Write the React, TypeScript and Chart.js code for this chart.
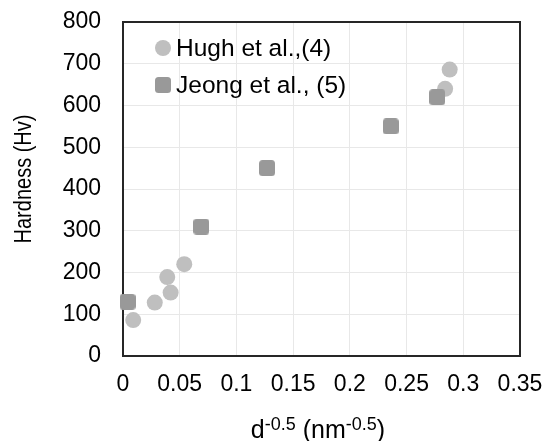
import React, { useEffect, useRef } from "react";
import { Chart, registerables } from "chart.js";

Chart.register(...registerables);

const hughX = [0.009, 0.028, 0.039, 0.042, 0.054, 0.284, 0.288];
const hughY = [86, 128, 189, 152, 220, 640, 686];
const jeongX = [0.004, 0.069, 0.127, 0.236, 0.277];
const jeongY = [130, 310, 450, 550, 620];
const seriesLabels = ["Hugh et al.,(4)", "Jeong et al., (5)"];
const xTickValues = [0, 0.05, 0.1, 0.15, 0.2, 0.25, 0.3, 0.35];
const xTickLabels = ["0", "0.05", "0.1", "0.15", "0.2", "0.25", "0.3", "0.35"];
const yTickValues = [0, 100, 200, 300, 400, 500, 600, 700, 800];
const yTickLabels = ["0", "100", "200", "300", "400", "500", "600", "700", "800"];
const yTitle = "Hardness (Hv)";
const xTitleParts: [string, boolean][] = [
  ["d", false],
  ["-0.5", true],
  [" (nm", false],
  ["-0.5", true],
  [")", false],
];

const FONT = "'Liberation Sans', Arial, sans-serif";
const HUGH_COLOR = "#bfbfbf";
const JEONG_COLOR = "#999999";

function makeRoundedSquare(color: string, size: number, r: number) {
  const c = document.createElement("canvas");
  c.width = size;
  c.height = size;
  const ctx = c.getContext("2d")!;
  ctx.fillStyle = color;
  ctx.beginPath();
  (ctx as any).roundRect(0, 0, size, size, r);
  ctx.fill();
  return c;
}

export default function App() {
  const ref = useRef<HTMLCanvasElement | null>(null);

  useEffect(() => {
    if (!ref.current) return;
    const square = makeRoundedSquare(JEONG_COLOR, 16, 3.5);

    const frame = {
      id: "frame",
      beforeDatasetsDraw(chart: any) {
        const { ctx, chartArea: a } = chart;
        ctx.save();
        ctx.strokeStyle = "#262626";
        ctx.lineWidth = 2;
        ctx.strokeRect(a.left, a.top, a.right - a.left, a.bottom - a.top);
        ctx.restore();
      },
    };

    const extras = {
      id: "extras",
      afterDraw(chart: any) {
        const { ctx } = chart;
        ctx.save();
        // Legend
        const items = [
          { y: 48, label: chart.data.datasets[0].label, kind: "circle" },
          { y: 85, label: chart.data.datasets[1].label, kind: "square" },
        ];
        ctx.font = `24.5px ${FONT}`;
        ctx.textBaseline = "middle";
        ctx.textAlign = "left";
        for (const it of items) {
          if (it.kind === "circle") {
            ctx.fillStyle = HUGH_COLOR;
            ctx.beginPath();
            ctx.arc(163, it.y, 8, 0, Math.PI * 2);
            ctx.fill();
          } else {
            ctx.drawImage(square, 155, it.y - 8, 16, 16);
          }
          ctx.fillStyle = "#000";
          ctx.fillText(it.label, 176, it.y + 1);
        }
        // Y title (slightly condensed along its length)
        ctx.save();
        ctx.translate(25, 179);
        ctx.rotate(-Math.PI / 2);
        ctx.scale(0.87, 1);
        ctx.font = `23px ${FONT}`;
        ctx.textAlign = "center";
        ctx.textBaseline = "middle";
        ctx.fillStyle = "#000";
        ctx.fillText(yTitle, 0, 0);
        ctx.restore();
        // X title with superscripts
        const mainFont = `25px ${FONT}`;
        const supFont = `18px ${FONT}`;
        let total = 0;
        for (const [t, sup] of xTitleParts) {
          ctx.font = sup ? supFont : mainFont;
          total += ctx.measureText(t).width;
        }
        let x = 318 - total / 2;
        const base = 438;
        ctx.textAlign = "left";
        ctx.textBaseline = "alphabetic";
        ctx.fillStyle = "#000";
        for (const [t, sup] of xTitleParts) {
          ctx.font = sup ? supFont : mainFont;
          ctx.fillText(t, x, sup ? base - 8 : base);
          x += ctx.measureText(t).width;
        }
        ctx.restore();
      },
    };

    const chart = new Chart(ref.current, {
      type: "scatter",
      data: {
        datasets: [
          {
            label: seriesLabels[0],
            data: hughX.map((x, i) => ({ x, y: hughY[i] })),
            backgroundColor: HUGH_COLOR,
            borderWidth: 0,
            pointRadius: 8,
            pointHoverRadius: 8,
            pointStyle: "circle",
            clip: false as any,
            order: 1,
          },
          {
            label: seriesLabels[1],
            data: jeongX.map((x, i) => ({ x, y: jeongY[i] })),
            backgroundColor: JEONG_COLOR,
            borderWidth: 0,
            pointRadius: 8,
            pointHoverRadius: 8,
            pointStyle: square as any,
            clip: false as any,
            order: 0,
          },
        ],
      },
      options: {
        animation: false,
        responsive: false,
        maintainAspectRatio: false,
        layout: { padding: { top: 22, right: 33, left: 0, bottom: 0 } },
        plugins: {
          legend: { display: false },
          tooltip: { enabled: false },
        },
        scales: {
          x: {
            type: "linear",
            min: 0,
            max: 0.35,
            afterBuildTicks: (s: any) => {
              s.ticks = xTickValues.map((v) => ({ value: v }));
            },
            afterFit: (s: any) => {
              s.height = 85;
              s.paddingLeft = 0;
              s.paddingRight = 0;
            },
            ticks: {
              padding: 15,
              color: "#000",
              font: { family: FONT, size: 23 },
              maxRotation: 0,
              callback: (v: any) => {
                const i = xTickValues.findIndex((t) => Math.abs(t - v) < 1e-9);
                return i >= 0 ? xTickLabels[i] : "";
              },
            },
            grid: { color: "#e8e8e8", lineWidth: 1, drawTicks: false },
            border: { display: false },
          },
          y: {
            type: "linear",
            min: 0,
            max: 800,
            afterBuildTicks: (s: any) => {
              s.ticks = yTickValues.map((v) => ({ value: v }));
            },
            afterFit: (s: any) => {
              s.width = 123;
              s.paddingTop = 0;
              s.paddingBottom = 0;
            },
            ticks: {
              padding: 22,
              color: "#000",
              font: { family: FONT, size: 23 },
              callback: (v: any) => {
                const i = yTickValues.indexOf(v);
                return i >= 0 ? yTickLabels[i] : "";
              },
            },
            grid: { color: "#e8e8e8", lineWidth: 1, drawTicks: false },
            border: { display: false },
          },
        },
      },
      plugins: [frame, extras],
    });
    return () => chart.destroy();
  }, []);

  return (
    <div style={{ position: "absolute", left: 0, top: 0, width: 553, height: 441, background: "#fff" }}>
      <canvas ref={ref} width={553} height={441} style={{ width: 553, height: 441, display: "block" }} />
    </div>
  );
}
